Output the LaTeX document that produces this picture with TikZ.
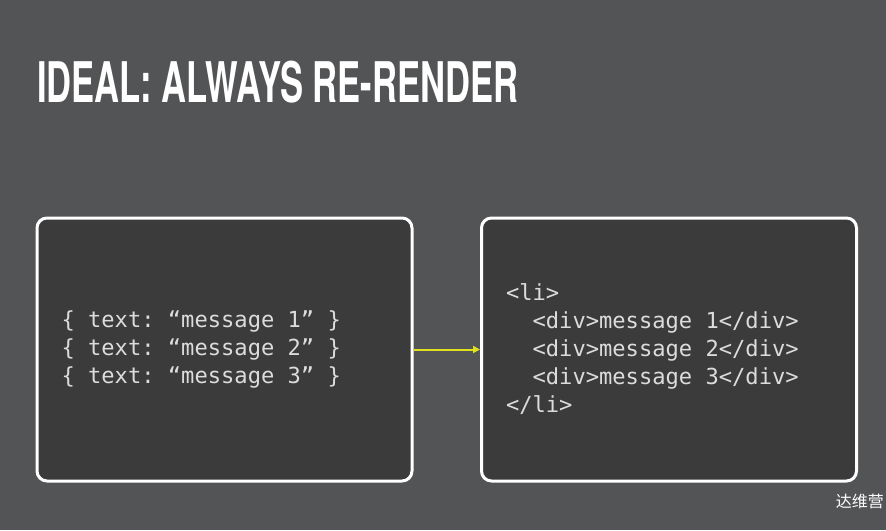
\documentclass[tikz,border=0pt]{standalone}
\usepackage{fontspec}
\usepackage{xcolor}
\usepackage{tikz}
\usetikzlibrary{arrows.meta}
\setmainfont{TeX Gyre Heros}
\setmonofont{DejaVu Sans Mono}
\newfontfamily\cjkfont{Noto Sans CJK SC}
\definecolor{slidebg}{HTML}{535455}
\definecolor{boxbg}{HTML}{3C3B3C}
\definecolor{codefg}{HTML}{DCDCDC}
\definecolor{arrowyellow}{HTML}{E0E020}
\DeclareRobustCommand\codefont{\ttfamily\fontsize{22.1}{28}\selectfont}
\newcommand\ws{\phantom{x}}

\begin{document}
\begin{tikzpicture}[x=1pt, y=-1pt,
    codebox/.style={draw=white, fill=boxbg, line width=3pt, rounded corners=10pt,
        minimum width=375pt, minimum height=263pt, text width=326pt, inner xsep=23pt,
        align=left, text=codefg, font=\codefont},
    flow/.style={draw=arrowyellow, line width=2pt, -{Triangle[length=7pt,width=7pt]}}]
\fill[slidebg] (0,0) rectangle (886,530);
\useasboundingbox (0,0) rectangle (886,530);
\node[anchor=base west, text=white, inner sep=0pt, font=\bfseries\fontsize{56}{56}\selectfont] (title) at (37,102)
    {\scalebox{0.617}[1]{IDEAL: ALWAYS RE-RENDER}};
\node[codebox] (data) at (224.5,349.5)
    {\{\ws text:\ws “message\ws 1”\ws\}\\\{\ws text:\ws “message\ws 2”\ws\}\\\{\ws text:\ws “message\ws 3”\ws\}};
\node[codebox] (html) at (669,349.5)
    {<li>\\\ws\ws<div>message\ws 1</div>\\\ws\ws<div>message\ws 2</div>\\\ws\ws<div>message\ws 3</div>\\</li>};
\draw[flow] (data.east) -- (html.west);
\node[anchor=east, text=white, inner sep=0pt, font=\cjkfont\fontsize{16}{16}\selectfont] (mark) at (884,501) {达维营};
\end{tikzpicture}
\end{document}
